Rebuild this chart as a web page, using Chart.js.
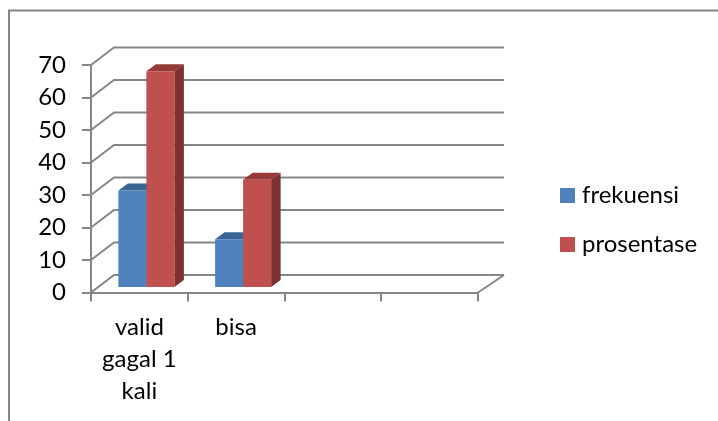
<!DOCTYPE html>
<html>
<head>
<meta charset="utf-8">
<title>frekuensi dan prosentase</title>
<script src="https://cdn.jsdelivr.net/npm/chart.js@4"></script>
<style>
  html, body { margin: 0; background: #fff; }
  canvas { display: block; }
</style>
</head>
<body>
<canvas id="chart" width="718" height="421"></canvas>
<script>
const categories = [['valid', 'gagal 1', 'kali'], 'bisa', '', ''];
const frekuensi = [30, 15];
const prosentase = [66.67, 33.33];
const yMax = 70;
const yStep = 10;

const axisColor = '#868686';
const seriesColors = ['#4F81BD', '#C0504D'];
const topColors = ['#3B6594', '#943A38'];
const sideColors = ['#345A85', '#7B3130'];
const labelFont = { family: 'Lato', size: 24 };

// offsets of the fake 3D box
const wallDx = 23, wallDy = -17.5;
const barDx = 7, barDy = -4.5;
const depthDx = 9.5, depthDy = -7;

const face = (ctx, color, pts) => {
  ctx.fillStyle = color;
  ctx.beginPath();
  pts.forEach(([x, y], i) => i ? ctx.lineTo(x, y) : ctx.moveTo(x, y));
  ctx.closePath();
  ctx.fill();
};

const box3d = {
  id: 'box3d',
  afterLayout(chart) {
    // legend sits to the right of the box, not in the flow of the layout
    const legend = chart.legend;
    const pad = legend.options.labels.padding;
    legend.left = 565 - pad;
    legend.right = 718;
    legend.top = 183.5 - pad;
    legend.bottom = 300;
  },
  beforeDraw(chart) {
    const ctx = chart.ctx;
    ctx.save();
    ctx.strokeStyle = axisColor;
    ctx.lineWidth = 2;
    ctx.beginPath();
    ctx.moveTo(9, 421);
    ctx.lineTo(9, 10.5);
    ctx.lineTo(718, 10.5);
    ctx.stroke();
    ctx.restore();
  },
  beforeDatasetsDraw(chart) {
    const { ctx, chartArea, scales } = chart;
    const { left, right, bottom } = chartArea;

    // back wall lines and the floor edge
    ctx.save();
    ctx.strokeStyle = axisColor;
    ctx.lineWidth = 2;
    ctx.beginPath();
    scales.y.ticks.forEach((t) => {
      const y = scales.y.getPixelForValue(t.value);
      ctx.moveTo(left, y);
      ctx.lineTo(left + wallDx, y + wallDy);
      ctx.lineTo(right + wallDx + 3, y + wallDy);
    });
    ctx.moveTo(right, bottom);
    ctx.lineTo(right + wallDx + 3, bottom + wallDy);
    ctx.stroke();
    ctx.restore();

    // shift the bars off the front plane, with their depth faces behind them
    ctx.save();
    ctx.translate(barDx, barDy);
    chart.data.datasets.forEach((ds, i) => {
      chart.getDatasetMeta(i).data.forEach((bar) => {
        const x0 = bar.x - bar.width / 2;
        const x1 = bar.x + bar.width / 2;
        face(ctx, sideColors[i], [[x1, bar.y], [x1 + depthDx, bar.y + depthDy], [x1 + depthDx, bar.base + depthDy], [x1, bar.base]]);
        face(ctx, topColors[i], [[x0, bar.y], [x0 + depthDx, bar.y + depthDy], [x1 + depthDx, bar.y + depthDy], [x1, bar.y]]);
      });
    });
  },
  afterDatasetsDraw(chart) {
    chart.ctx.restore();
  }
};

const chart = new Chart(document.getElementById('chart'), {
  type: 'bar',
  data: {
    labels: categories,
    datasets: [
      { label: 'frekuensi', data: frekuensi, backgroundColor: seriesColors[0] },
      { label: 'prosentase', data: prosentase, backgroundColor: seriesColors[1] }
    ]
  },
  options: {
    responsive: false,
    animation: false,
    categoryPercentage: 0.579,
    barPercentage: 1,
    layout: { padding: { left: 26, top: 65, right: 240, bottom: 0 } },
    scales: {
      x: {
        afterFit: (s) => { s.height = 128.5; },
        border: { color: axisColor, width: 2 },
        grid: { color: axisColor, lineWidth: 2, drawOnChartArea: false, tickLength: 9 },
        ticks: {
          color: '#000',
          font: { ...labelFont, lineHeight: 1.33 },
          autoSkip: false,
          maxRotation: 0,
          padding: 10
        }
      },
      y: {
        min: 0,
        max: yMax,
        afterFit: (s) => { s.width = 65; },
        border: { color: axisColor, width: 2 },
        grid: { color: axisColor, lineWidth: 2, drawOnChartArea: false, tickLength: 9 },
        ticks: {
          stepSize: yStep,
          color: '#000',
          font: labelFont,
          padding: 16
        }
      }
    },
    plugins: {
      tooltip: { enabled: false },
      legend: {
        position: 'chartArea',
        align: 'start',
        labels: {
          usePointStyle: true,
          pointStyle: 'rect',
          boxWidth: 5,
          boxHeight: 15,
          padding: 25,
          color: '#000',
          font: labelFont
        },
        onClick: null
      }
    }
  },
  plugins: [box3d]
});
</script>
</body>
</html>
